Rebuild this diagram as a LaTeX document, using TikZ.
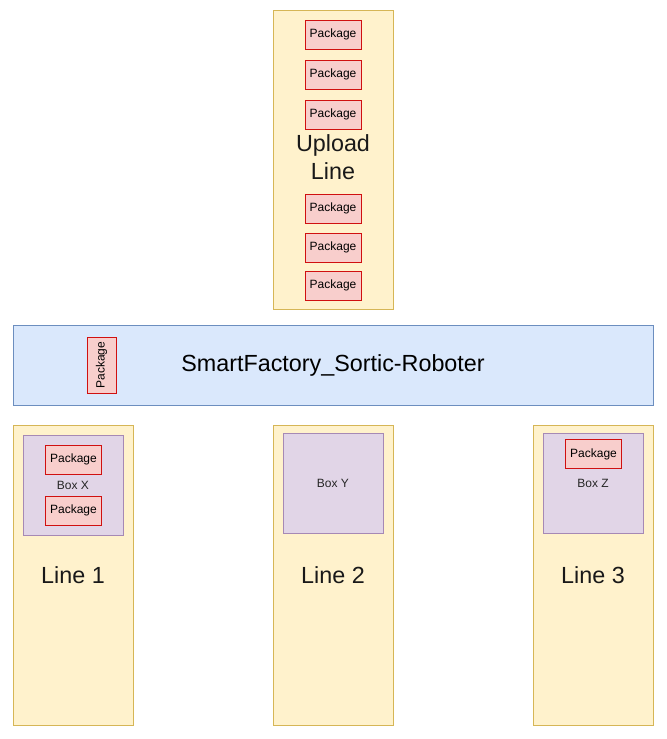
\documentclass[tikz,border=0pt]{standalone}
\usepackage{fontspec}
\setmainfont{Liberation Sans}
\definecolor{ylfill}{HTML}{FFF2CC}
\definecolor{yldraw}{HTML}{D6B656}
\definecolor{blfill}{HTML}{DAE8FC}
\definecolor{bldraw}{HTML}{6C8EBF}
\definecolor{rdfill}{HTML}{F8CECC}
\definecolor{rddraw}{HTML}{D01010}
\definecolor{pufill}{HTML}{E1D5E7}
\definecolor{pudraw}{HTML}{A689B5}
\tikzset{
  lane/.style={draw=yldraw, fill=ylfill, line width=0.75pt, inner sep=0pt,
    minimum width=90pt, minimum height=225pt, align=center,
    font=\fontsize{17.5}{21}\selectfont, text=black!90},
  pkg/.style={draw=rddraw, fill=rdfill, line width=0.75pt, inner sep=0pt,
    minimum width=42pt, minimum height=21.75pt, font=\fontsize{9}{10}\selectfont},
  boxstyle/.style={draw=pudraw, fill=pufill, line width=0.75pt, inner sep=0pt,
    minimum width=75pt, minimum height=75pt, font=\fontsize{9}{10}\selectfont, text=black!85},
  robot/.style={draw=bldraw, fill=blfill, line width=0.75pt, inner sep=0pt,
    minimum width=480pt, minimum height=60pt, font=\fontsize{17.5}{21}\selectfont}
}
\begin{document}
\begin{tikzpicture}[x=0.75pt, y=-0.75pt]
\useasboundingbox (0,0) rectangle (667,739);
% upload line
\node[lane, minimum height=224.25pt] (upload) at (333,159.5) {};
\node[align=center, inner sep=0pt, font=\fontsize{17.5}{21}\selectfont, text=black!90] (ulabel) at (333,157) {Upload\\Line};
\node[pkg] (p1) at (333,34.5) {Package};
\node[pkg] (p2) at (333,74.5) {Package};
\node[pkg] (p3) at (333,114.5) {Package};
\node[pkg] (p4) at (333,208.5) {Package};
\node[pkg] (p5) at (333,247.5) {Package};
\node[pkg] (p6) at (333,285.5) {Package};
% robot
\node[robot] (robot) at (333,365) {SmartFactory\_Sortic-Roboter};
\node[pkg, rotate=90] (pr) at (101.5,365) {Package};
% lines
\node[lane] (l1) at (73,575) {Line 1};
\node[lane] (l2) at (333,575) {Line 2};
\node[lane] (l3) at (593,575) {Line 3};
% boxes
\node[boxstyle] (bx) at (73,485) {Box X};
\node[boxstyle] (by) at (333,483) {Box Y};
\node[boxstyle] (bz) at (593,483) {Box Z};
\node[pkg] (px1) at (73.5,459.5) {Package};
\node[pkg] (px2) at (73.5,510.5) {Package};
\node[pkg] (pz1) at (593.5,454) {Package};
\end{tikzpicture}
\end{document}
